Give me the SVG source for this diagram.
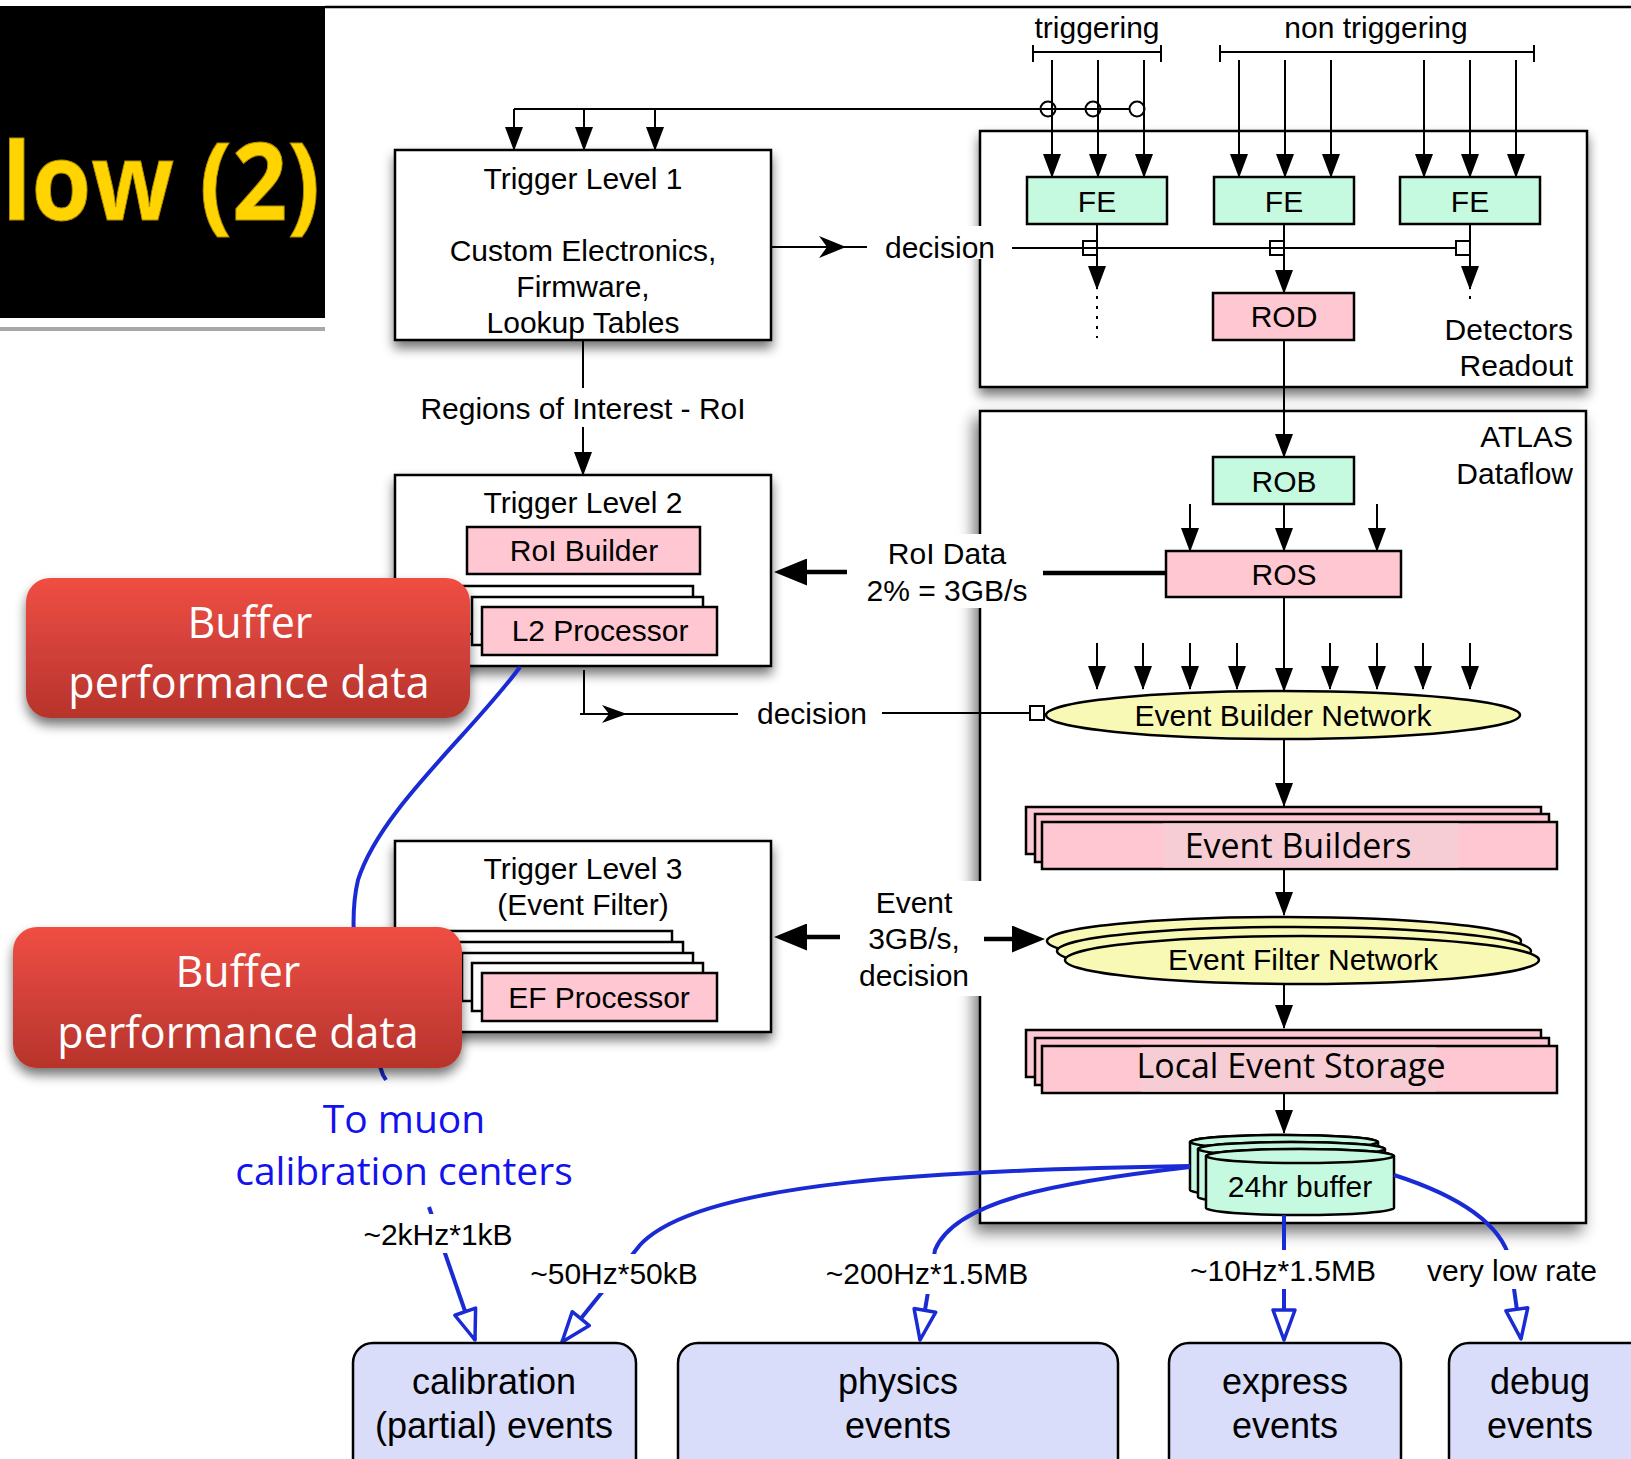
<svg xmlns="http://www.w3.org/2000/svg" width="1631" height="1459" viewBox="0 0 1631 1459">
<style>
.t{font-family:"Liberation Sans",Arial,Helvetica,sans-serif;font-size:30px;fill:#000;text-anchor:middle}
.r{text-anchor:end}
.big{font-size:36px}
.os{font-family:"Open Sans","Liberation Sans",sans-serif;font-size:34px}
.box{fill:#fff;stroke:#000;stroke-width:2.5}
.pink{fill:#FFC7D1;stroke:#000;stroke-width:2.5}
.mint{fill:#C6FAE0;stroke:#000;stroke-width:2.5}
.yel{fill:#F9F9B6;stroke:#000;stroke-width:2.5}
.lav{fill:#D9DDFA;stroke:#000;stroke-width:2.5}
.ln{fill:none;stroke:#000;stroke-width:2}
.lnb{fill:none;stroke:#000;stroke-width:4.5}
.bl{fill:none;stroke:#1A2BD6;stroke-width:4}
.wbg{fill:#fff}
.red{fill:url(#redg)}
.wt{font-family:"Open Sans","Liberation Sans",sans-serif;font-size:43px;fill:#fff;text-anchor:middle}
.bt{font-family:"Open Sans","Liberation Sans",sans-serif;font-size:39px;fill:#1212EE;text-anchor:middle}
.lt{fill:#F6CDD4}
</style>
<defs>
<marker id="ah" markerUnits="userSpaceOnUse" markerWidth="24" markerHeight="18" refX="23" refY="9" orient="auto"><path d="M0,0 L24,9 L0,18 Z" fill="#000"/></marker>
<marker id="ahB" markerUnits="userSpaceOnUse" markerWidth="33" markerHeight="27" refX="1" refY="13.5" orient="auto"><path d="M0,0 L33,13.5 L0,27 Z" fill="#000"/></marker>
<marker id="ahO" markerUnits="userSpaceOnUse" markerWidth="38" markerHeight="28" refX="33" refY="14" orient="auto"><path d="M3,3 L33,14 L3,25 Z" fill="#fff" stroke="#1A2BD6" stroke-width="3.5" stroke-linejoin="round"/></marker>
<linearGradient id="redg" x1="0" y1="0" x2="0" y2="1"><stop offset="0" stop-color="#F04E42"/><stop offset="0.5" stop-color="#D2413A"/><stop offset="1" stop-color="#B7332A"/></linearGradient>
<filter id="sh" x="-10%" y="-10%" width="125%" height="135%"><feGaussianBlur in="SourceAlpha" stdDeviation="6"/><feOffset dx="0" dy="7"/><feComponentTransfer><feFuncA type="linear" slope="0.55"/></feComponentTransfer><feMerge><feMergeNode/><feMergeNode in="SourceGraphic"/></feMerge></filter>
<filter id="sh2" x="-10%" y="-5%" width="125%" height="115%"><feGaussianBlur in="SourceAlpha" stdDeviation="8"/><feOffset dx="-5" dy="8"/><feComponentTransfer><feFuncA type="linear" slope="0.55"/></feComponentTransfer><feMerge><feMergeNode/><feMergeNode in="SourceGraphic"/></feMerge></filter>
</defs>

<g id="title">
<rect x="0" y="6" width="325" height="312" fill="#000"/>
<rect x="0" y="327" width="325" height="4" fill="#A8A8A8"/>
<text x="2" y="220" font-family="Open Sans, Liberation Sans, sans-serif" font-weight="700" font-size="108" fill="#FFD400" stroke="#B08C00" stroke-width="1" textLength="318" lengthAdjust="spacingAndGlyphs">low (2)</text>
</g>
<line x1="325" y1="7" x2="1631" y2="7" stroke="#000" stroke-width="2.5"/>

<g id="detectors-readout">
<rect class="box" x="980" y="131" width="607" height="256" filter="url(#sh)"/>
<text class="t r" x="1573" y="340">Detectors</text>
<text class="t r" x="1573" y="376">Readout</text>
</g>
<g id="atlas-dataflow">
<rect class="box" x="980" y="411" width="606" height="812" filter="url(#sh2)"/>
<text class="t r" x="1573" y="447">ATLAS</text>
<text class="t r" x="1573" y="484">Dataflow</text>
</g>

<g id="trigger-l1">
<rect class="box" x="395" y="150" width="376" height="190" filter="url(#sh)"/>
<text class="t" x="583" y="189">Trigger Level 1</text>
<text class="t" x="583" y="261">Custom Electronics,</text>
<text class="t" x="583" y="297">Firmware,</text>
<text class="t" x="583" y="333">Lookup Tables</text>
</g>
<g id="trigger-l2">
<rect class="box" x="395" y="475" width="376" height="191" filter="url(#sh)"/>
<text class="t" x="583" y="513">Trigger Level 2</text>
</g>
<g id="roi-builder">
<rect class="pink" x="467" y="527" width="233" height="47"/>
<text class="t" x="584" y="561">RoI Builder</text>
</g>
<g id="l2-processor">
<rect class="box" x="462" y="586" width="231" height="48"/>
<rect class="box" x="472" y="597" width="231" height="48"/>
<rect class="pink" x="482" y="607" width="235" height="48"/>
<text class="t" x="600" y="641">L2 Processor</text>
</g>
<g id="trigger-l3">
<rect class="box" x="395" y="841" width="376" height="191" filter="url(#sh)"/>
<text class="t" x="583" y="879">Trigger Level 3</text>
<text class="t" x="583" y="915">(Event Filter)</text>
</g>
<g id="ef-processor">
<rect class="box" x="442" y="931" width="230" height="48"/>
<rect class="box" x="452" y="942" width="231" height="48"/>
<rect class="box" x="462" y="953" width="231" height="48"/>
<rect class="box" x="472" y="963" width="231" height="48"/>
<rect class="pink" x="482" y="973" width="235" height="48"/>
<text class="t" x="599" y="1008">EF Processor</text>
</g>

<g id="connectors">
<text class="t" x="1097" y="38">triggering</text>
<text class="t" x="1376" y="38">non triggering</text>
<path class="ln" d="M1033,52 H1161 M1033,45 V62 M1161,45 V62 M1220,52 H1534 M1220,45 V62 M1534,45 V62"/>
<path class="ln" d="M514,109 H1130"/>
<path class="ln" marker-end="url(#ah)" d="M514,109 V150"/>
<path class="ln" marker-end="url(#ah)" d="M584,109 V150"/>
<path class="ln" marker-end="url(#ah)" d="M655,109 V150"/>
<circle class="ln" cx="1048" cy="109" r="7.5"/>
<circle class="ln" cx="1093" cy="109" r="7.5"/>
<circle class="ln" cx="1137" cy="109" r="7.5"/>
<path class="ln" marker-end="url(#ah)" d="M1052,60 V177"/>
<path class="ln" marker-end="url(#ah)" d="M1098,60 V177"/>
<path class="ln" marker-end="url(#ah)" d="M1144,60 V177"/>
<path class="ln" marker-end="url(#ah)" d="M1239,60 V177"/>
<path class="ln" marker-end="url(#ah)" d="M1285,60 V177"/>
<path class="ln" marker-end="url(#ah)" d="M1331,60 V177"/>
<path class="ln" marker-end="url(#ah)" d="M1424,60 V177"/>
<path class="ln" marker-end="url(#ah)" d="M1470,60 V177"/>
<path class="ln" marker-end="url(#ah)" d="M1516,60 V177"/>
<path class="ln" d="M771,247 H867"/>
<path d="M846,247 L819,236 L827,247 L819,258 Z" fill="#000"/>
<path class="ln" d="M1012,248 H1456"/>
<rect class="ln" x="1083" y="241" width="14" height="14"/>
<rect class="ln" x="1270" y="241" width="14" height="14"/>
<rect class="ln" x="1456" y="241" width="14" height="14"/>
<path class="ln" marker-end="url(#ah)" d="M1097,224 V289"/>
<path class="ln" marker-end="url(#ah)" d="M1284,224 V293"/>
<path class="ln" marker-end="url(#ah)" d="M1470,224 V289"/>
<path class="ln" stroke-dasharray="3,7" d="M1097,296 V338"/>
<path class="ln" stroke-dasharray="3,7" d="M1470,296 V306"/>
<path class="ln" marker-end="url(#ah)" d="M1284,340 V457"/>
<path class="ln" marker-end="url(#ah)" d="M1284,504 V551"/>
<path class="ln" marker-end="url(#ah)" d="M1190,504 V551"/>
<path class="ln" marker-end="url(#ah)" d="M1377,504 V551"/>
<path class="ln" marker-end="url(#ah)" d="M1284,597 V691"/>
<path class="ln" marker-end="url(#ah)" d="M1097,643 V689"/>
<path class="ln" marker-end="url(#ah)" d="M1143,643 V689"/>
<path class="ln" marker-end="url(#ah)" d="M1190,643 V689"/>
<path class="ln" marker-end="url(#ah)" d="M1237,643 V689"/>
<path class="ln" marker-end="url(#ah)" d="M1330,643 V689"/>
<path class="ln" marker-end="url(#ah)" d="M1377,643 V689"/>
<path class="ln" marker-end="url(#ah)" d="M1423,643 V689"/>
<path class="ln" marker-end="url(#ah)" d="M1470,643 V689"/>
<path class="ln" marker-end="url(#ah)" d="M1284,739 V806"/>
<path class="ln" marker-end="url(#ah)" d="M1284,869 V915"/>
<path class="ln" marker-end="url(#ah)" d="M1284,983 V1028"/>
<path class="ln" marker-end="url(#ah)" d="M1284,1093 V1133"/>
<path class="ln" d="M583,340 V388"/>
<path class="ln" marker-end="url(#ah)" d="M583,427 V475"/>
<text class="t" x="583" y="419">Regions of Interest - RoI</text>
<path class="ln" d="M584,670 V714 H738 M580,714 H584"/>
<path d="M627,714 L602,705 L609,714 L602,723 Z" fill="#000"/>
<path class="ln" d="M882,713 H1030"/>
<rect x="1030" y="706" width="14" height="14" fill="#fff" stroke="#000" stroke-width="2"/>
<text class="t" x="812" y="724">decision</text>
<path class="lnb" d="M1043,573 H1166"/>
</g>

<g id="labels-mid">
<rect class="wbg" x="872" y="226" width="137" height="33"/>
<text class="t" x="940" y="258">decision</text>
<rect class="wbg" x="853" y="534" width="184" height="74"/>
<text class="t" x="947" y="564">RoI Data</text>
<text class="t" x="947" y="601">2% = 3GB/s</text>
<path class="lnb" marker-end="url(#ahB)" d="M847,572 H806"/>
<rect class="wbg" x="842" y="881" width="141" height="115"/>
<text class="t" x="914" y="913">Event</text>
<text class="t" x="914" y="949">3GB/s,</text>
<text class="t" x="914" y="986">decision</text>
<path class="lnb" marker-end="url(#ahB)" d="M840,937 H806"/>
<path class="lnb" marker-end="url(#ahB)" d="M984,939 H1013"/>
</g>

<g id="fe1"><rect class="mint" x="1027" y="177" width="140" height="47"/><text class="t" x="1097" y="212">FE</text></g>
<g id="fe2"><rect class="mint" x="1214" y="177" width="140" height="47"/><text class="t" x="1284" y="212">FE</text></g>
<g id="fe3"><rect class="mint" x="1400" y="177" width="140" height="47"/><text class="t" x="1470" y="212">FE</text></g>
<g id="rod"><rect class="pink" x="1213" y="293" width="141" height="47"/><text class="t" x="1284" y="327">ROD</text></g>
<g id="rob"><rect class="mint" x="1213" y="457" width="141" height="47"/><text class="t" x="1284" y="492">ROB</text></g>
<g id="ros"><rect class="pink" x="1166" y="551" width="235" height="46"/><text class="t" x="1284" y="585">ROS</text></g>
<g id="event-builder-network"><ellipse class="yel" cx="1283" cy="715" rx="237" ry="24"/><text class="t" x="1283" y="726">Event Builder Network</text></g>
<g id="event-builders">
<rect class="pink" x="1026" y="807" width="515" height="47"/>
<rect class="pink" x="1035" y="814" width="514" height="48"/>
<rect class="pink" x="1042" y="822" width="515" height="47"/>
<rect class="lt" x="1163" y="823.5" width="296" height="44"/>
<text class="t os" x="1298" y="858">Event Builders</text>
</g>
<g id="event-filter-network">
<ellipse class="yel" cx="1284" cy="941" rx="237" ry="24"/>
<ellipse class="yel" cx="1294" cy="951" rx="237" ry="24"/>
<ellipse class="yel" cx="1302" cy="960" rx="237" ry="24"/>
<text class="t" x="1303" y="970">Event Filter Network</text>
</g>
<g id="local-event-storage">
<rect class="pink" x="1026" y="1030" width="515" height="47"/>
<rect class="pink" x="1035" y="1038" width="514" height="47"/>
<rect class="pink" x="1042" y="1046" width="515" height="47"/>
<rect class="lt" x="1141" y="1047.5" width="295" height="44"/>
<text class="t os" x="1291" y="1078">Local Event Storage</text>
</g>
<g id="buffer-24hr">
<path class="mint" d="M1190,1142 V1190 A94,7 0 0 0 1378,1190 V1142 A94,7 0 0 0 1190,1142 Z"/>
<ellipse class="mint" cx="1284" cy="1142" rx="94" ry="7"/>
<path class="mint" d="M1198,1149 V1197 A93.5,7 0 0 0 1385,1197 V1149 A93.5,7 0 0 0 1198,1149 Z"/>
<ellipse class="mint" cx="1291.5" cy="1149" rx="93.5" ry="7"/>
<path class="mint" d="M1206,1156 V1208 A94,7 0 0 0 1394,1208 V1156 A94,7 0 0 0 1206,1156 Z"/>
<ellipse class="mint" cx="1300" cy="1156" rx="94" ry="7"/>
<text class="t" x="1300" y="1197">24hr buffer</text>
</g>

<g id="blue-connectors">
<path class="bl" d="M520,667 C470,735 380,810 358,880 C346,930 360,1012 383,1075 L386,1080"/>
<path class="bl" marker-end="url(#ahO)" d="M429,1207 L475,1340"/>
<path class="bl" marker-end="url(#ahO)" d="M1190,1166 C950,1170 700,1180 640,1245 L562,1342"/>
<path class="bl" marker-end="url(#ahO)" d="M1190,1167 C1060,1182 955,1200 935,1250 L920,1340"/>
<path class="bl" marker-end="url(#ahO)" d="M1284,1215 V1340"/>
<path class="bl" marker-end="url(#ahO)" d="M1394,1175 C1450,1193 1500,1220 1510,1260 L1521,1339"/>
</g>

<g id="buffer-perf-1">
<rect class="red" x="26" y="578" width="444" height="140" rx="24" filter="url(#sh)"/>
<text class="wt" x="250" y="638">Buffer</text>
<text class="wt" x="249" y="698">performance data</text>
</g>
<g id="buffer-perf-2">
<rect class="red" x="13" y="927" width="449" height="141" rx="24" filter="url(#sh)"/>
<text class="wt" x="238" y="987">Buffer</text>
<text class="wt" x="238" y="1048">performance data</text>
</g>

<g id="muon-label">
<text class="bt" x="404" y="1133">To muon</text>
<text class="bt" x="404" y="1185">calibration centers</text>
</g>

<g id="rate-labels">
<rect class="wbg" x="356" y="1214" width="166" height="39"/>
<text class="t" x="438" y="1245">~2kHz*1kB</text>
<rect class="wbg" x="522" y="1254" width="184" height="39"/>
<text class="t" x="614" y="1284">~50Hz*50kB</text>
<rect class="wbg" x="818" y="1254" width="218" height="40"/>
<text class="t" x="927" y="1284">~200Hz*1.5MB</text>
<rect class="wbg" x="1184" y="1250" width="200" height="39"/>
<text class="t" x="1283" y="1281">~10Hz*1.5MB</text>
<rect class="wbg" x="1420" y="1250" width="186" height="39"/>
<text class="t" x="1512" y="1281">very low rate</text>
</g>

<g id="calibration-events">
<rect class="lav" x="353" y="1343" width="283" height="140" rx="20"/>
<text class="t big" x="494" y="1394">calibration</text>
<text class="t big" x="494" y="1438">(partial) events</text>
</g>
<g id="physics-events">
<rect class="lav" x="678" y="1343" width="440" height="140" rx="20"/>
<text class="t big" x="898" y="1394">physics</text>
<text class="t big" x="898" y="1438">events</text>
</g>
<g id="express-events">
<rect class="lav" x="1169" y="1343" width="232" height="140" rx="20"/>
<text class="t big" x="1285" y="1394">express</text>
<text class="t big" x="1285" y="1438">events</text>
</g>
<g id="debug-events">
<rect class="lav" x="1449" y="1343" width="220" height="140" rx="20"/>
<text class="t big" x="1540" y="1394">debug</text>
<text class="t big" x="1540" y="1438">events</text>
</g>
</svg>
